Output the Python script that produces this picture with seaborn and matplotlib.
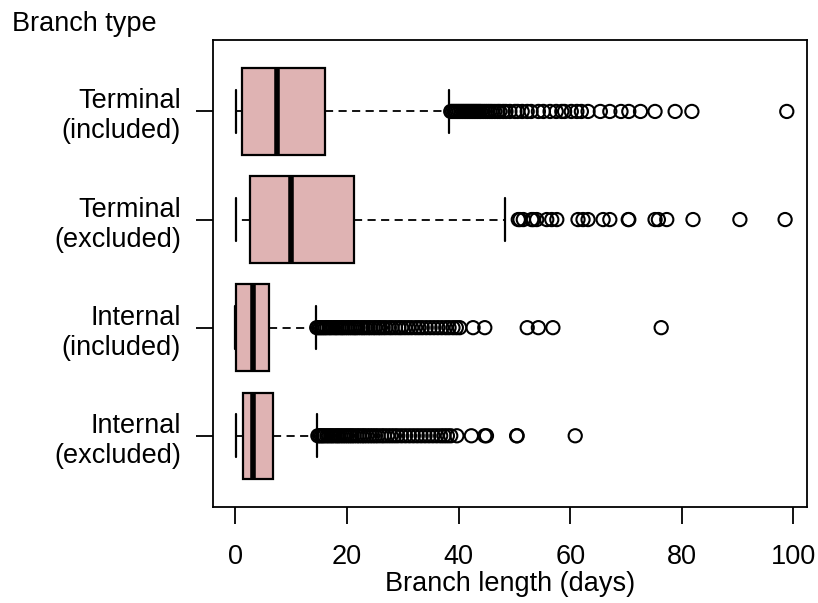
import numpy as np
import pandas as pd
import matplotlib
matplotlib.use("Agg")
import matplotlib.pyplot as plt
import seaborn as sns

# branch types, top to bottom
labels = ["Terminal\n(included)", "Terminal\n(excluded)",
          "Internal\n(included)", "Internal\n(excluded)"]

# five-number summaries (days)
whisk_lo = [0.05, 0.05, 0.0, 0.05]
q1 = [1.2, 2.6, 0.2, 1.3]
median = [7.5, 10.0, 3.1, 3.2]
q3 = [16.0, 21.2, 6.0, 6.7]
whisk_hi = [38.3, 48.4, 14.4, 14.6]

# outliers
out_term_inc = [38.6, 38.9, 39.2, 39.5, 39.8, 40.1, 40.4, 40.7, 41.0, 41.3,
                41.6, 41.9, 42.2, 42.5, 42.8, 43.1, 43.4, 43.7, 44.0, 44.4,
                44.8, 45.2, 45.6, 46.0, 46.5, 47.0, 47.4, 48.0, 48.5, 49.2,
                50.1, 50.6, 51.4, 52.3, 53.0, 54.3, 55.2, 56.4, 57.5, 58.5,
                59.0, 60.2, 61.2, 62.0, 63.2, 65.4, 67.1, 69.1, 70.5, 72.6,
                75.2, 78.8, 81.8, 98.8]
out_term_exc = [50.7, 51.0, 51.6, 53.1, 53.4, 54.0, 55.8, 56.7, 57.6, 61.4,
                62.3, 63.2, 65.9, 67.1, 70.4, 70.5, 75.2, 75.8, 77.3, 82.0,
                90.4, 98.5]
out_int_inc = [14.6, 14.9, 15.2, 15.5, 15.8, 16.1, 16.4, 16.8, 17.1, 17.5,
               17.9, 18.2, 18.6, 19.0, 19.3, 19.7, 20.1, 20.5, 20.9, 21.3,
               21.6, 22.0, 22.5, 22.9, 23.3, 23.8, 24.2, 24.7, 25.1, 25.6,
               26.0, 26.5, 27.0, 27.6, 28.1, 28.7, 29.3, 29.8, 30.4, 31.0,
               31.6, 32.3, 32.9, 33.5, 34.2, 34.9, 35.6, 36.3, 37.0, 37.7,
               38.3, 39.0, 39.6, 40.2, 42.6, 44.7, 52.3, 54.3, 56.9, 76.3]
out_int_exc = [14.8, 15.1, 15.4, 15.7, 16.0, 16.4, 16.7, 17.1, 17.4, 17.8,
               18.2, 18.5, 18.9, 19.3, 19.7, 20.1, 20.5, 20.9, 21.3, 21.8,
               22.2, 22.7, 23.1, 23.6, 24.1, 24.6, 25.1, 25.6, 26.2, 26.7,
               27.3, 27.9, 28.5, 29.1, 29.8, 30.5, 31.2, 31.9, 32.6, 33.3,
               34.0, 34.7, 35.4, 36.1, 36.8, 37.4, 38.0, 38.6, 39.7, 42.3,
               44.7, 45.0, 50.4, 50.5, 60.9]
outliers = [out_term_inc, out_term_exc, out_int_inc, out_int_exc]

sns.set_theme(style="ticks")
plt.rcParams["font.family"] = ["Liberation Sans", "DejaVu Sans"]
plt.rcParams["text.color"] = "black"

# 5 values per group -> quartiles land exactly on the summary
box_rows = []
for i, lab in enumerate(labels):
    for v in [whisk_lo[i], q1[i], median[i], q3[i], whisk_hi[i]]:
        box_rows.append({"type": lab, "length": v})
box_df = pd.DataFrame(box_rows)

out_df = pd.DataFrame([{"type": lab, "length": v}
                       for lab, vals in zip(labels, outliers) for v in vals])

fig = plt.figure(figsize=(8.18, 6.03), dpi=100)
ax = fig.add_axes([0.261, 0.159, 0.7254, 0.7745])

sns.boxplot(data=box_df, x="length", y="type", order=labels, orient="h",
            whis=(0, 100), width=0.8, color="#dfb3b3", linecolor="black",
            linewidth=1.6, fliersize=0, saturation=1, ax=ax,
            medianprops={"linewidth": 4.0, "color": "black", "solid_capstyle": "butt"},
            whiskerprops={"linestyle": (0, (4.5, 3)), "linewidth": 1.3},
            capprops={"linewidth": 1.6})

sns.stripplot(data=out_df, x="length", y="type", order=labels, orient="h",
              jitter=False, marker="o", size=9.5, color="black",
              facecolor="none", edgecolor="black", linewidth=1.5, ax=ax)
for coll in ax.collections:
    coll.set_facecolor("none")
    coll.set_edgecolor("black")

ax.set_xlim(-3.9, 102.4)
ax.set_ylim(3.66, -0.66)
ax.set_xticks([0, 20, 40, 60, 80, 100])
ax.set_xticklabels(["0", "20", "40", "60", "80", "100"])
ax.set_yticks(range(4))
ax.set_yticklabels(labels, ha="right")

for s in ax.spines.values():
    s.set_visible(True)
    s.set_linewidth(1.3)
    s.set_color("black")
ax.tick_params(axis="both", labelsize=19.5, length=12.5, width=1.3, color="black",
               labelcolor="black")
ax.tick_params(axis="x", pad=14)
ax.tick_params(axis="y", pad=11)
ax.set_xlabel("Branch length (days)", fontsize=19.5, labelpad=1, color="black")
ax.set_ylabel("")
fig.text(0.015, 0.96, "Branch type", fontsize=19.5, ha="left", va="center",
         color="black")

fig.savefig("out.png", dpi=100)
